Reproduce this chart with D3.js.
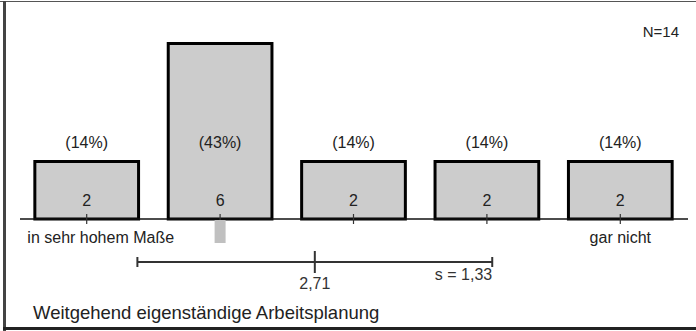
<!DOCTYPE html>
<html><head><meta charset="utf-8">
<script src="https://cdn.jsdelivr.net/npm/d3@7"></script>
<style>html,body{margin:0;padding:0;background:#fff;}svg{display:block;font-family:"Liberation Sans",Arial,sans-serif;}</style>
</head><body>
<svg id="c" width="696" height="331"></svg>
<script>
const categories = ["in sehr hohem Maße", "2", "3", "4", "gar nicht"];
const axisLabels = ["in sehr hohem Maße", "", "", "", "gar nicht"];
const counts = [2, 6, 2, 2, 2];
const percents = ["(14%)", "(43%)", "(14%)", "(14%)", "(14%)"];
const meanValue = 2.71;
const sdValue = 1.33;
const medianIndex = 1;
const nLabel = "N=14";
const title = "Weitgehend eigenständige Arbeitsplanung";

const svg = d3.select("#c");
const W = 696, H = 331;
const baseY = 219;

const x = d3.scaleBand().domain(categories).range([20, 687]).paddingInner(0.2).paddingOuter(0.1);
const xc = c => x(c) + x.bandwidth() / 2;
const y = d3.scaleLinear().domain([0, 6]).range([baseY, 42]);
const xm = d3.scaleLinear().domain([1, 5]).range([xc(categories[0]), xc(categories[4])]);

// frame
svg.append("line").attr("x1", 0).attr("x2", W).attr("y1", 1.5).attr("y2", 1.5).attr("stroke", "#555").attr("stroke-width", 1.2);
svg.append("line").attr("x1", 4.5).attr("x2", 4.5).attr("y1", 1).attr("y2", H).attr("stroke", "#444").attr("stroke-width", 3);
svg.append("line").attr("x1", 3).attr("x2", W).attr("y1", 328.5).attr("y2", 328.5).attr("stroke", "#222").attr("stroke-width", 3);

// bars
svg.selectAll("rect.bar").data(categories).join("rect").attr("class", "bar")
  .attr("x", d => x(d) + 1.5).attr("width", x.bandwidth() - 3)
  .attr("y", (d, i) => y(counts[i]) + 1.5).attr("height", (d, i) => baseY - y(counts[i]) - 1.5)
  .attr("fill", "#cccccc").attr("stroke", "#000").attr("stroke-width", 3);

// baseline
svg.append("line").attr("x1", 20).attr("x2", 688).attr("y1", baseY).attr("y2", baseY).attr("stroke", "#111").attr("stroke-width", 1.5);

// ticks
svg.selectAll("line.tick").data(categories).join("line").attr("class", "tick")
  .attr("x1", d => xc(d)).attr("x2", d => xc(d)).attr("y1", baseY - 5).attr("y2", baseY + 5)
  .attr("stroke", "#333").attr("stroke-width", 1.2);

// median marker
svg.append("rect").attr("x", xc(categories[medianIndex]) - 5.5).attr("width", 11)
  .attr("y", baseY + 1).attr("height", 23).attr("fill", "#c0c0c0");

const txt = "#222";
// count labels
svg.selectAll("text.cnt").data(categories).join("text").attr("class", "cnt")
  .attr("x", d => xc(d)).attr("y", baseY - 13).attr("text-anchor", "middle")
  .attr("font-size", 16).attr("fill", txt).text((d, i) => counts[i]);

// percent labels
svg.selectAll("text.pct").data(categories).join("text").attr("class", "pct")
  .attr("x", d => xc(d)).attr("y", y(2) - 12).attr("text-anchor", "middle")
  .attr("font-size", 16).attr("fill", txt).text((d, i) => percents[i]);

// axis labels
svg.append("text").attr("x", x(categories[0]) - 6).attr("y", 243).attr("text-anchor", "start")
  .attr("font-size", 16).attr("fill", txt).text(axisLabels[0]);
svg.append("text").attr("x", xc(categories[4])).attr("y", 243).attr("text-anchor", "middle")
  .attr("font-size", 16).attr("fill", txt).text(axisLabels[4]);

// mean / sd bar
const eY = 262;
const lo = xm(meanValue - sdValue), hi = xm(meanValue + sdValue), mx = xm(meanValue);
svg.append("line").attr("x1", lo).attr("x2", hi).attr("y1", eY).attr("y2", eY).attr("stroke", "#333").attr("stroke-width", 2);
svg.append("line").attr("x1", lo).attr("x2", lo).attr("y1", eY - 5).attr("y2", eY + 5).attr("stroke", "#333").attr("stroke-width", 2);
svg.append("line").attr("x1", hi).attr("x2", hi).attr("y1", eY - 5).attr("y2", eY + 5).attr("stroke", "#333").attr("stroke-width", 2);
svg.append("line").attr("x1", mx).attr("x2", mx).attr("y1", eY - 11).attr("y2", eY + 11).attr("stroke", "#333").attr("stroke-width", 2);
svg.append("text").attr("x", mx).attr("y", 289).attr("text-anchor", "middle").attr("font-size", 16).attr("fill", "#333")
  .text(String(meanValue.toFixed(2)).replace(".", ","));
svg.append("text").attr("x", hi).attr("y", 280).attr("text-anchor", "end").attr("font-size", 16).attr("fill", "#333")
  .text("s = " + sdValue.toFixed(2).replace(".", ","));

// N
svg.append("text").attr("x", 679).attr("y", 37).attr("text-anchor", "end").attr("font-size", 15).attr("fill", txt).text(nLabel);

// title
svg.append("text").attr("x", 33).attr("y", 319).attr("font-size", 18.5).attr("fill", txt).text(title);
</script>
</body></html>
